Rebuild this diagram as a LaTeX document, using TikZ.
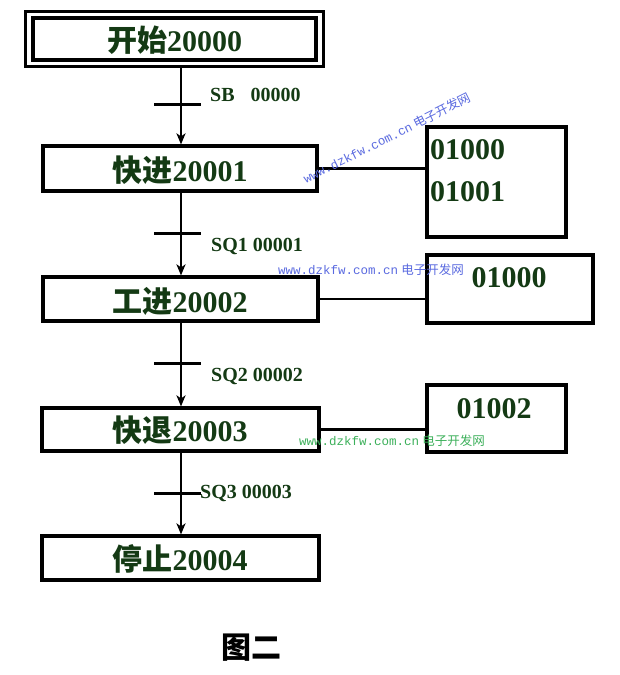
\documentclass[tikz,border=0pt]{standalone}
\usepackage{fontspec}
\setmainfont{Liberation Serif}
\newfontfamily\cjk{Noto Sans CJK SC}
\newfontfamily\wmono{Liberation Mono}
\usetikzlibrary{arrows.meta,calc}
\definecolor{txtgreen}{HTML}{143A14}
\definecolor{wmblue}{HTML}{5A6AE0}
\definecolor{wmgreen}{HTML}{3CB05A}
\tikzset{
  stepbox/.style={draw=black, line width=3.2pt, inner sep=0pt},
  outbox/.style={draw=black, line width=3.2pt, inner sep=0pt},
  boxtext/.style={font=\fontsize{30}{30}\selectfont\bfseries, text=txtgreen, inner sep=0pt},
  flowarrow/.style={line width=2.4pt, -{Stealth[length=11pt,width=9pt,inset=3pt]}},
  tickline/.style={line width=3pt},
  link/.style={line width=2.8pt},
  condlabel/.style={font=\fontsize{20}{20}\selectfont\bfseries, text=txtgreen, anchor=west, inner sep=0pt},
  watermark/.style={font=\fontsize{12.5}{12.5}\selectfont, inner sep=1pt}
}
\begin{document}
\begin{tikzpicture}[x=1pt,y=-1pt]
\useasboundingbox[fill=white] (0,0) rectangle (619,675);

% step boxes
\node[stepbox, minimum width=283pt, minimum height=42pt] (box1) at (174.5,39) {};
\draw[line width=2.6pt] ($(box1.north west)+(-6pt,5pt)$) rectangle ($(box1.south east)+(6pt,-5pt)$);
\node[boxtext] (t1) at (174.5,40) {{\cjk 开始}20000};

\node[stepbox, minimum width=274pt, minimum height=45pt] (box2) at (180,168.5) {};
\node[boxtext] (t2) at (180,170) {{\cjk 快进}20001};

\node[stepbox, minimum width=275pt, minimum height=44pt] (box3) at (180.5,299) {};
\node[boxtext] (t3) at (180,301) {{\cjk 工进}20002};

\node[stepbox, minimum width=277pt, minimum height=43pt] (box4) at (180.5,429.5) {};
\node[boxtext] (t4) at (180,430) {{\cjk 快退}20003};

\node[stepbox, minimum width=277pt, minimum height=44pt] (box5) at (180.5,558) {};
\node[boxtext] (t5) at (180,559) {{\cjk 停止}20004};

% output boxes
\node[outbox, minimum width=139pt, minimum height=110pt] (ra) at (496.5,182) {};
\node[boxtext, anchor=west] (ra1) at (430,150) {01000};
\node[boxtext, anchor=west] (ra2) at (430,192) {01001};

\node[outbox, minimum width=166pt, minimum height=68pt] (rb) at (510,289) {};
\node[boxtext] (rb1) at (509,278) {01000};

\node[outbox, minimum width=139pt, minimum height=67pt] (rc) at (496.5,418.5) {};
\node[boxtext] (rc1) at (494,409) {01002};

% links to outputs
\draw[link] (box2.east) -- (box2.east -| ra.west);
\draw[link] (box3.east) -- (box3.east -| rb.west);
\draw[link] (box4.east) -- (box4.east -| rc.west);

% flow arrows
\coordinate (ax) at (181,0);
\draw[flowarrow] ($(box1.south -| ax)+(0,-5pt)$) -- (box2.north -| ax);
\draw[flowarrow] (box2.south -| ax) -- (box3.north -| ax);
\draw[flowarrow] (box3.south -| ax) -- (box4.north -| ax);
\draw[flowarrow] (box4.south -| ax) -- (box5.north -| ax);

% transition ticks
\coordinate (k1a) at (154,104); \coordinate (k1b) at (201,104);
\coordinate (k2a) at (154,233); \coordinate (k2b) at (201,233);
\coordinate (k3a) at (154,363); \coordinate (k3b) at (201,363);
\coordinate (k4a) at (154,493); \coordinate (k4b) at (201,493);
\draw[tickline] (k1a) -- (k1b);
\draw[tickline] (k2a) -- (k2b);
\draw[tickline] (k3a) -- (k3b);
\draw[tickline] (k4a) -- (k4b);

% transition labels
\node[condlabel] (c1) at (210,95) {SB\hspace{16pt}00000};
\node[condlabel] (c2) at (211,246) {SQ1 00001};
\node[condlabel] (c3) at (211,376) {SQ2 00002};
\node[condlabel] (c4) at (200,493) {SQ3 00003};

% watermarks
\node[watermark, text=wmblue, rotate=26.5] (w1) at (387,138) {{\wmono www.dzkfw.com.cn} {\cjk 电子开发网}};
\node[watermark, text=wmblue] (w2) at (371,270) {{\wmono www.dzkfw.com.cn} {\cjk 电子开发网}};
\node[watermark, text=wmgreen] (w3) at (392,441) {{\wmono www.dzkfw.com.cn} {\cjk 电子开发网}};

% caption
\node[font=\fontsize{30}{30}\selectfont\bfseries\cjk, inner sep=0pt] (cap) at (251,648) {图二};
\end{tikzpicture}
\end{document}
